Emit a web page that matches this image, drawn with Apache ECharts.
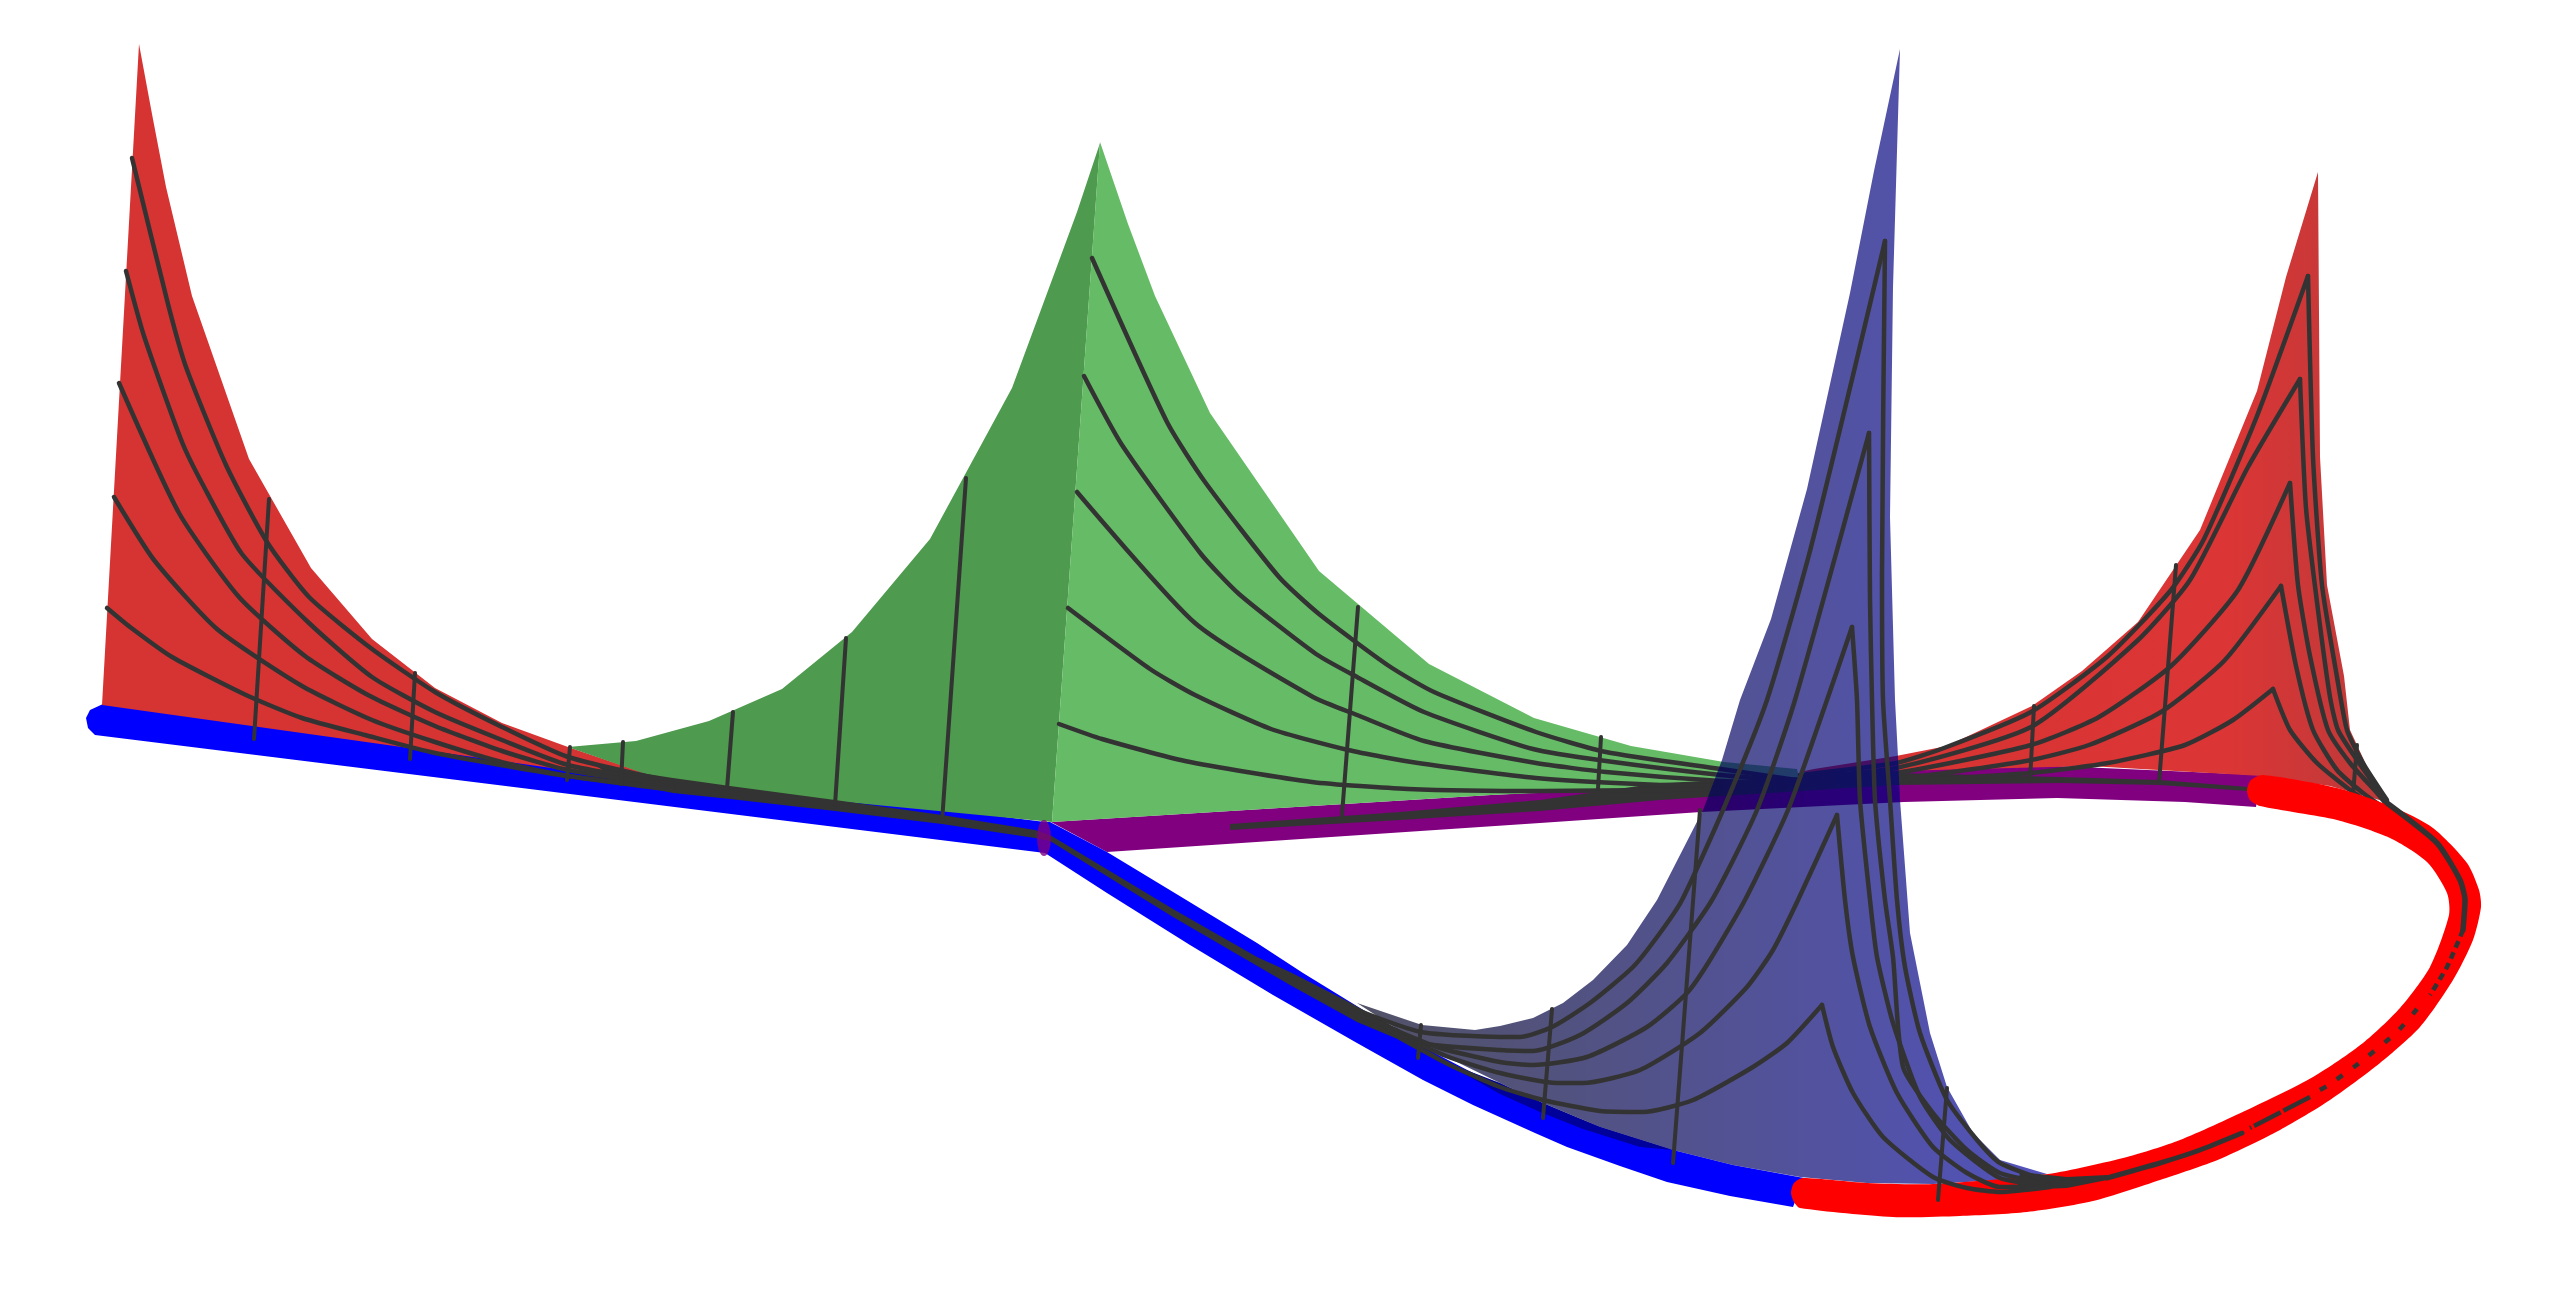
<!DOCTYPE html>
<html><head><meta charset="utf-8">
<style>html,body{margin:0;padding:0;background:#fff;width:100%;height:100%;overflow:hidden}#c{width:2555px;height:1293px}</style>
<script src="https://cdn.jsdelivr.net/npm/echarts@6/dist/echarts.min.js"></script>
</head><body><div id="c"></div>
<script>
// Outlines and curves (x, y in picture units)
const purpleBand=[[1051,822],[1491,795],[1701,784],[1904,770],[2057,766],[2261,775],[2256,807],[2185,802],[2057,798],[1904,802],[1701,812],[1540,823],[1107,852]];
const blueBand=[[103,704],[1045,822],[1050,822],[1107,852],[1183,898],[1257,943],[1303,973],[1347,1000],[1423,1047],[1473,1073],[1540,1103],[1600,1127],[1673,1150],[1733,1165],[1804,1178],[1793,1207],[1730,1196],[1667,1182],[1620,1166],[1567,1147],[1535,1133],[1473,1105],[1423,1080],[1357,1043],[1273,995],[1190,945],[1107,893],[1045,853],[95,735],[88,728],[86,718],[90,710]];
const blueSliver=[[1500,1083],[1543,1103],[1600,1127],[1673,1150],[1640,1147],[1583,1129],[1540,1112],[1500,1094],[1440,1060]];
const redLoop=[[1791,1193],[1794,1202],[1800,1208],[1893,1217],[1960,1216],[2027,1212],[2093,1201],[2160,1180],[2220,1159],[2280,1130],[2330,1100],[2380,1063],[2420,1027],[2453,980],[2473,940],[2481,907],[2479,890],[2467,863],[2433,828],[2393,807],[2337,788],[2263,775],[2251,780],[2247,790],[2250,800],[2260,806],[2337,820],[2390,838],[2427,862],[2447,893],[2449,915],[2430,967],[2400,1008],[2363,1043],[2313,1077],[2247,1110],[2180,1140],[2127,1157],[2048,1174],[1933,1184],[1867,1183],[1803,1178],[1794,1183]];
const redLeft=[[139,44],[152,114],[166,187],[192,296],[249,459],[311,568],[372,639],[435,688],[502,723],[568,747],[624,766],[680,786],[102,705]];
const greenDark=[[1100,143],[1077,212],[1056,269],[1012,388],[930,539],[852,632],[782,689],[709,721],[636,741],[568,747],[680,786],[1052,822]];
const greenLight=[[1100,142],[1128,224],[1155,296],[1210,413],[1319,571],[1429,664],[1534,718],[1631,746],[1724,762],[1797,769],[1800,782],[1491,795],[1052,822]];
const redRight=[[2318,172],[2286,277],[2257,391],[2200,530],[2138,622],[2082,671],[2032,706],[1947,746],[1896,756],[1814,769],[1800,772],[1896,771],[2089,766],[2262,776],[2330,786],[2390,803],[2370,773],[2350,730],[2344,676],[2327,585],[2320,457]];
const blueSurface=[[1900,49],[1874,171],[1850,293],[1807,489],[1771,619],[1740,700],[1722,760],[1703,810],[1657,900],[1627,945],[1593,980],[1563,1003],[1533,1018],[1500,1026],[1475,1030],[1422,1025],[1357,1003],[1422,1045],[1500,1083],[1543,1103],[1600,1127],[1673,1150],[1733,1165],[1800,1177],[1867,1183],[1933,1184],[2000,1180],[2047,1174],[2000,1160],[1973,1133],[1947,1087],[1930,1033],[1910,933],[1900,800],[1898,757],[1895,700],[1890,517],[1893,287]];

const leftRidges=[
[[132,158],[168,304],[186,367],[226,465],[267,542],[309,597],[372,649],[435,692],[502,727],[568,757],[673,782]],
[[126,271],[144,336],[182,442],[203,485],[242,554],[309,623],[372,677],[435,712],[502,740],[568,765],[673,784]],
[[119,383],[179,513],[239,597],[305,656],[368,695],[435,726],[505,752],[568,770],[673,786]],
[[114,497],[154,560],[217,629],[302,686],[372,720],[435,742],[505,763],[568,776],[673,788]],
[[107,608],[130,627],[172,657],[246,695],[302,718],[365,735],[435,753],[561,775],[673,790]]];
const leftSpine=[[590,762],[621,770],[673,778],[730,786],[835,800],[942,815],[1035,830],[1050,835],[1173,909],[1257,957],[1290,972],[1347,1001],[1400,1030],[1400,1040],[1357,1022],[1290,985],[1173,917],[1050,841],[1035,838],[942,824],[835,811],[730,799],[673,793],[621,782]];
const greenRidges=[
[[1092,258],[1167,422],[1205,482],[1279,577],[1319,614],[1389,666],[1434,692],[1536,732],[1606,752],[1721,769],[1810,782]],
[[1084,376],[1122,445],[1201,554],[1239,594],[1316,654],[1357,677],[1424,712],[1533,749],[1606,761],[1721,775],[1810,782]],
[[1077,492],[1195,623],[1313,697],[1357,715],[1424,741],[1536,763],[1606,772],[1721,781],[1810,784]],
[[1068,608],[1150,669],[1195,695],[1271,729],[1348,750],[1418,763],[1536,778],[1638,784],[1721,786],[1810,785]],
[[1059,724],[1102,739],[1185,761],[1312,782],[1408,789],[1542,791],[1721,789],[1810,786]]];
const purpleSpine=[[1230,824],[1400,812],[1540,800],[1660,783],[1896,773],[2060,777],[2160,780],[2248,787],[2248,791],[2160,785],[2060,783],[1896,785],[1660,800],[1540,811],[1400,820],[1230,830]];
const rightRidges=[
[[1800,775],[1896,763],[1944,748],[2031,712],[2108,656],[2171,590],[2204,539],[2257,416],[2308,276],[2313,457],[2322,585],[2337,677],[2347,730],[2363,763],[2387,800]],
[[1800,777],[1896,768],[2031,727],[2137,641],[2190,580],[2248,467],[2300,379],[2306,508],[2318,610],[2330,697],[2338,730],[2357,760],[2383,797]],
[[1800,779],[1896,773],[2031,745],[2099,717],[2171,666],[2238,590],[2290,483],[2298,585],[2310,656],[2328,730],[2350,763],[2377,793],[2387,805]],
[[1800,781],[1896,779],[2026,761],[2089,745],[2161,712],[2224,661],[2281,586],[2296,666],[2313,730],[2337,770],[2363,793],[2387,810]],
[[1800,783],[1896,781],[2031,773],[2108,763],[2185,745],[2233,720],[2273,689],[2290,730],[2317,763],[2350,790],[2380,809]]];
const loopSolidA=[[2387,803],[2437,843],[2460,880],[2465,900],[2463,930]];
const loopDots=[[2463,930],[2447,967],[2430,995]];
const loopDotsLow=[[2417,1009],[2397,1032],[2358,1064],[2327,1086],[2316,1092]];
const loopDash=[[2310,1097],[2250,1128]];
const loopSolidB=[[2107,1178],[2160,1163],[2200,1150],[2242,1133]];
const loopWedge=[[2020,1172],[2048,1175],[2067,1177],[2107,1175],[2107,1180],[2067,1188],[2017,1190]];
const blueRidges=[
[[1357,1010],[1421,1032],[1500,1037],[1520,1037],[1552,1027],[1590,1003],[1633,967],[1660,933],[1682,900],[1723,810],[1767,700],[1810,551],[1855,367],[1885,241],[1882,574],[1883,700],[1890,800],[1897,900],[1905,967],[1920,1033],[1947,1100],[1977,1140],[2000,1163],[2050,1182]],
[[1370,1018],[1421,1043],[1500,1050],[1533,1051],[1580,1035],[1627,1003],[1667,963],[1712,900],[1757,810],[1795,700],[1869,433],[1870,600],[1872,700],[1875,800],[1885,900],[1893,957],[1903,1067],[1933,1113],[1967,1150],[2000,1173],[2050,1184]],
[[1395,1030],[1440,1048],[1500,1062],[1533,1065],[1587,1057],[1647,1027],[1687,993],[1710,960],[1745,900],[1788,810],[1827,700],[1852,627],[1857,700],[1860,800],[1870,900],[1877,957],[1893,1023],[1920,1097],[1950,1140],[2000,1178],[2050,1185]],
[[1389,1030],[1446,1056],[1500,1073],[1557,1083],[1583,1083],[1640,1070],[1700,1033],[1747,987],[1773,950],[1798,900],[1837,815],[1845,900],[1853,957],[1870,1027],[1897,1093],[1933,1147],[1967,1173],[2000,1187],[2050,1186]],
[[1400,1038],[1450,1065],[1500,1087],[1543,1100],[1600,1111],[1643,1112],[1693,1100],[1753,1067],[1787,1043],[1822,1005],[1833,1047],[1853,1093],[1883,1137],[1933,1177],[1967,1188],[2000,1192],[2050,1187]]];
const crossLines=[
[[269,499],[254,739]],[[415,673],[410,759]],[[570,747],[567,780]],[[623,742],[621,784]],[[733,712],[727,789]],[[846,638],[835,805]],[[966,478],[942,822]],
[[1358,607],[1342,815]],[[1601,737],[1598,789]],
[[2176,565],[2159,783]],[[2034,706],[2030,781]],[[2357,745],[2352,807]]];
const blueCrossLines=[[[1421,1025],[1418,1058]],[[1552,1009],[1543,1118]],[[1700,810],[1673,1163]],[[1947,1088],[1938,1200]]];
const junctionMark=[[1044,838]];

const SX='#333333';
function poly(points,fill,z,smooth){
  return {type:'custom',coordinateSystem:'cartesian2d',data:points,z:z,silent:true,animation:false,clip:false,
    renderItem:function(p,api){
      if(p.dataIndex!==0) return null;
      return {type:'polygon',shape:{points:points.map(q=>api.coord(q)),smooth:smooth||0},style:{fill:fill}};
    }};
}
function line(points,width,z,dash,smooth){
  return {type:'line',data:points,z:z,symbol:'none',silent:true,animation:false,clip:false,smooth:smooth||false,
    lineStyle:{color:SX,width:width,type:dash||'solid',cap:dash?'butt':'round',join:'round'}};
}
// a ridge has a sharp apex: its two legs are smoothed on their own
function ridge(points,width,z){
  let k=0; points.forEach((q,i)=>{if(q[1]<points[k][1])k=i;});
  const out=[];
  if(k>0) out.push(line(points.slice(0,k+1),width,z,null,0.2));
  if(k<points.length-1) out.push(line(points.slice(k),width,z,null,0.2));
  return out;
}
const series=[
  poly(purpleBand,'#800080',1),
  poly(blueBand,'#0000ff',2),
  poly(redLeft,'#d63333',3),
  poly(greenDark,'#4e9a4e',3),
  poly(greenLight,'#66bb66',3),
  poly(redRight,new echarts.graphic.LinearGradient(0,0,1,0,[{offset:0,color:'#d63333'},{offset:.72,color:'#dc3535'},{offset:1,color:'#bc3a3a'}]),3),
  ...leftRidges.flatMap(r=>ridge(r,4.5,5)),
  poly(leftSpine,SX,5),
  ...greenRidges.flatMap(r=>ridge(r,4.5,5)),
  poly(purpleSpine,SX,5),
  ...rightRidges.flatMap(r=>ridge(r,4.5,5)),
  ...crossLines.map(r=>line(r,4,5)),
  poly(blueSliver,'#00009a',6),
  poly(blueSurface,new echarts.graphic.LinearGradient(0,0,1,0,[{offset:0,color:'rgba(0,0,30,0.68)'},{offset:1,color:'rgba(0,0,155,0.68)'}]),7),
  poly(redLoop,'#ff0000',8,0.25),
  line(loopSolidA,5.5,9,null,0.2),
  line(loopDots,4.5,9,[7,5],0.2),
  line(loopDotsLow,4.5,9,[7,13],0.2),
  line(loopDash,4.5,9,[30,3]),
  line(loopSolidB,5,9,null,0.2),
  poly(loopWedge,SX,9),
  ...blueRidges.flatMap(r=>ridge(r,4.5,9)),
  ...blueCrossLines.map(r=>line(r,4,9)),
  {type:'scatter',data:junctionMark,symbol:'circle',symbolSize:[14,36],z:10,silent:true,animation:false,itemStyle:{color:'#800080'}}
];
const chart=echarts.init(document.getElementById('c'),null,{renderer:'canvas'});
chart.setOption({
  animation:false,backgroundColor:'#ffffff',
  grid:{left:0,right:0,top:0,bottom:0},
  xAxis:{type:'value',min:0,max:2555,show:false},
  yAxis:{type:'value',min:0,max:1293,inverse:true,show:false},
  series:series
});
</script></body></html>
